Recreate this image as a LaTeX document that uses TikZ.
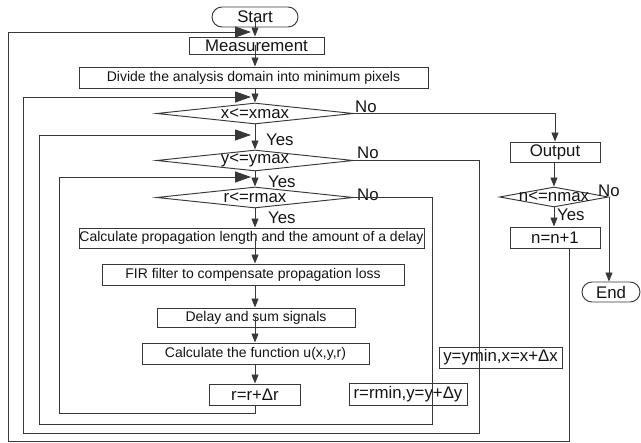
\documentclass[tikz,border=0pt]{standalone}
\usepackage{fontspec}
\setmainfont{Liberation Sans}
\usetikzlibrary{arrows.meta,shapes.geometric}
\tikzset{
  line/.style={draw=black!78, line width=0.95pt},
  box/.style={draw=black!78, line width=0.95pt, rectangle, inner sep=0pt, text=black!92,
    font=\fontsize{16.8}{18}\selectfont},
  sbox/.style={box, font=\fontsize{14}{16}\selectfont},
  term/.style={box, rounded corners=10pt},
  dia/.style={draw=black!78, line width=0.95pt, diamond, inner sep=0pt},
  lbl/.style={inner sep=0pt, text=black!92, font=\fontsize{16.8}{18}\selectfont},
  varr/.style={line, -{Triangle[length=9pt,width=7pt]}},
  harr/.style={line, -{Triangle[length=16pt,width=11pt]}},
}
\begin{document}
\begin{tikzpicture}[x=1pt,y=-1pt]
\useasboundingbox (0,0) rectangle (641,443);

% main column
\node[term, minimum width=86pt, minimum height=20pt] (start) at (255,17) {Start};
\node[box, minimum width=135pt, minimum height=17pt] (meas) at (256.5,45.5) {Measurement};
\node[sbox, minimum width=349pt, minimum height=21pt] (div) at (253.5,77.5) {Divide the analysis domain into minimum pixels};
\node[dia, minimum width=197pt, minimum height=21pt] (xd) at (255,113.5) {};
\node[lbl] (xdt) at (xd) {x<=xmax};
\node[dia, minimum width=197pt, minimum height=21pt] (yd) at (255,160.5) {};
\node[lbl] (ydt) at (yd) {y<=ymax};
\node[dia, minimum width=197pt, minimum height=21pt] (rd) at (255,197.5) {};
\node[lbl] (rdt) at (rd) {r<=rmax};
\node[sbox, minimum width=345pt, minimum height=20pt] (calc) at (251.5,238) {Calculate propagation length and the amount of a delay};
\node[sbox, minimum width=302pt, minimum height=21pt] (fir) at (253,274.5) {FIR filter to compensate propagation loss};
\node[sbox, minimum width=198pt, minimum height=19pt] (dly) at (256,317.5) {Delay and sum signals};
\node[sbox, minimum width=227pt, minimum height=21pt] (cfn) at (255.5,353.5) {Calculate the function u(x,y,r)};
\node[box, minimum width=91pt, minimum height=21pt] (rr) at (255,394.5) {r=r+Δr};
\node[box, minimum width=118pt, minimum height=22pt] (rmin) at (408,394) {r=rmin,y=y+Δy};
\node[box, minimum width=123pt, minimum height=21pt] (ymin) at (500.5,357.5) {y=ymin,x=x+Δx};

% right column
\node[box, minimum width=90pt, minimum height=20pt] (out) at (555,152) {Output};
\node[dia, minimum width=109pt, minimum height=20pt] (nd) at (554,197) {};
\node[lbl] (ndt) at (nd) {n<=nmax};
\node[box, minimum width=90pt, minimum height=21pt] (nn) at (555,237.5) {n=n+1};
\node[term, minimum width=58pt, minimum height=20pt] (end) at (611,292) {End};

% labels
\node[lbl, anchor=south west] (nox) at (355,112.5) {No};
\node[lbl, anchor=south west] (noy) at (357,159) {No};
\node[lbl, anchor=south west] (nor) at (357,200.5) {No};
\node[lbl, anchor=base west] (yesx) at (266,146) {Yes};
\node[lbl, anchor=base west] (yesy) at (268,188) {Yes};
\node[lbl, anchor=base west] (yesr) at (268,224) {Yes};
\node[lbl, anchor=base west] (yesn) at (557,221) {Yes};
\node[lbl, anchor=base west] (non) at (598,197) {No};

% main downward arrows
\draw[varr] (start.center) -- (start.center |- meas.north);
\draw[varr] (start.center |- meas.center) -- (start.center |- div.north);
\draw[varr] (start.center |- div.south) -- (xd.north);
\draw[varr] (xd.south) -- (yd.north);
\draw[varr] (yd.south) -- (rd.north);
\draw[varr] (rd.south) -- (rd.south |- calc.north);
\draw[varr] (rd.south |- calc.center) -- (rd.south |- fir.north);
\draw[varr] (rd.south |- fir.south) -- (rd.south |- dly.north);
\draw[varr] (rd.south |- dly.center) -- (rd.south |- cfn.north);
\draw[varr] (rd.south |- cfn.south) -- (rr.north);

% right column arrows
\draw[varr] (xd.east) -| (out.north);
\draw[varr] (out.south) -- (out.south -| nd.north) -- (nd.north);
\draw[varr] (nd.south) -- (nd.south |- nn.north);
\draw[varr] (nd.east) -- (nd.east |- end.north);

% loops
\coordinate (nnout) at ([xshift=14pt]nn.south);
\coordinate (l0) at (8,441);
\coordinate (t0) at (251,32);
\draw[harr] (nnout) -- (nnout |- l0) -- (l0) -- (l0 |- t0) -- (t0);

\coordinate (r1) at (479,433);
\coordinate (l1) at (23,433);
\coordinate (t1) at (251,97);
\draw[harr] (yd.east) -- (yd.east -| r1) -- (r1) -- (l1) -- (l1 |- t1) -- (t1);

\coordinate (r2) at (432,424);
\coordinate (l2) at (39,424);
\coordinate (t2) at (251,135);
\draw[harr] (rd.east) -- (rd.east -| r2) -- (r2) -- (l2) -- (l2 |- t2) -- (t2);

\coordinate (b3) at (255,413);
\coordinate (l3) at (59,413);
\coordinate (t3) at (251,177);
\draw[harr] (rr.south) -- (b3) -- (l3) -- (l3 |- t3) -- (t3);
\end{tikzpicture}
\end{document}
